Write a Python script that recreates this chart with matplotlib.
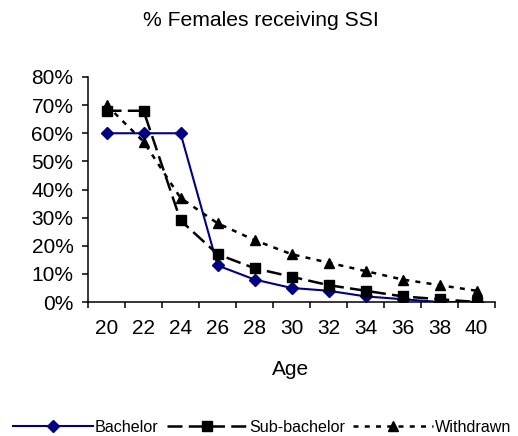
import matplotlib
matplotlib.use('Agg')
import matplotlib.pyplot as plt
from matplotlib.ticker import FixedLocator, PercentFormatter, NullFormatter

plt.rcParams['font.family'] = ['Liberation Sans', 'DejaVu Sans']

ages = [20, 22, 24, 26, 28, 30, 32, 34, 36, 38, 40]
bachelor = [60, 60, 60, 13, 8, 5, 4, 2, 1, 0, 0]
sub_bachelor = [68, 68, 29, 17, 12, 9, 6, 4, 2, 1, 0]
withdrawn = [70, 57, 37, 28, 22, 17, 14, 11, 8, 6, 4]
y_ticks = [0, 10, 20, 30, 40, 50, 60, 70, 80]

fig = plt.figure(figsize=(5.18, 4.36), dpi=100)
ax = fig.add_axes([0.170, 0.3073, 0.9556 - 0.170, 0.8234 - 0.3073])

pos = list(range(len(ages)))
ax.plot(pos, bachelor, color='#000080', lw=1.5, marker='D', ms=6,
        label='Bachelor')
ax.plot(pos, sub_bachelor, color='black', lw=1.8, marker='s', ms=7,
        dashes=(6, 2.5), label='Sub-bachelor')
ax.plot(pos, withdrawn, color='black', lw=1.8, marker='^', ms=7.5,
        dashes=(2, 2.5), label='Withdrawn')

ax.set_xlim(-0.5, len(ages) - 0.5)
ax.set_ylim(0, 80)

# category axis: tick marks between categories, labels in the middle
ax.xaxis.set_major_locator(FixedLocator([p - 0.5 for p in range(len(ages) + 1)]))
ax.xaxis.set_major_formatter(NullFormatter())
ax.xaxis.set_minor_locator(FixedLocator(pos))
ax.set_xticklabels([str(a) for a in ages], minor=True)
ax.tick_params(axis='x', which='major', direction='out', length=4.5, width=1.1)
ax.tick_params(axis='x', which='minor', length=0, pad=12, labelsize=15)

ax.set_yticks(y_ticks)
ax.yaxis.set_major_formatter(PercentFormatter(decimals=0))
ax.tick_params(axis='y', direction='out', length=4.5, width=1.1, pad=6,
               labelsize=15)

for s in ['top', 'right']:
    ax.spines[s].set_visible(False)
for s in ['left', 'bottom']:
    ax.spines[s].set_linewidth(1.1)

fig.text(0.504, 0.954, '% Females receiving SSI', ha='center', va='center',
         fontsize=15.2)
fig.text(291 / 518, 1 - 369 / 436, 'Age', ha='center', va='center',
         fontsize=15)

fig.legend(loc='center', bbox_to_anchor=(262 / 518, 1 - 427 / 436), ncol=3,
           frameon=False, fontsize=11.6, handlelength=5.0, handletextpad=0.1,
           columnspacing=0.5, numpoints=1, borderpad=0)

fig.savefig('out.png', dpi=100)
